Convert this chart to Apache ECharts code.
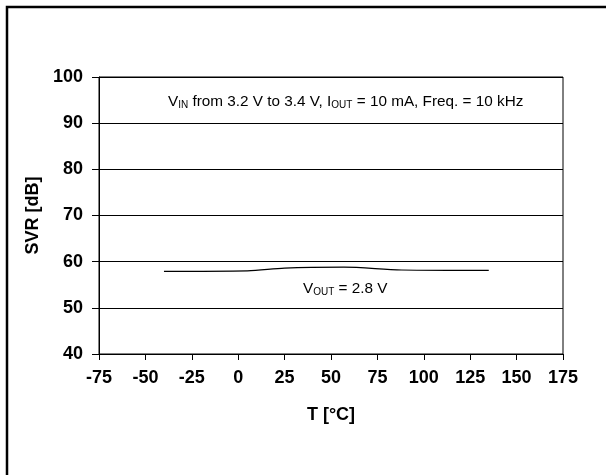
<!DOCTYPE html>
<html>
<head>
<meta charset="utf-8">
<script src="https://cdn.jsdelivr.net/npm/echarts@6/dist/echarts.min.js"></script>
<style>html,body{margin:0;padding:0;background:#fff}#c{width:606px;height:475px}</style>
</head>
<body>
<div id="c"></div>
<script>
var temps = [-40, 5, 25, 57, 88, 135];
var svr28 = [57.9, 58.0, 58.6, 58.8, 58.2, 58.1];
var xTicks = [-75, 175, 25];
var yTicks = [40, 100, 10];

var chart = echarts.init(document.getElementById('c'), null, {renderer: 'canvas'});
var font = 'Liberation Sans, Arial, sans-serif';
chart.setOption({
  animation: false,
  backgroundColor: '#fff',
  grid: {left: 99, right: 43, top: 77, bottom: 121, show: true, borderColor: '#000', borderWidth: 1, backgroundColor: 'transparent'},
  xAxis: {
    type: 'value', min: xTicks[0], max: xTicks[1], interval: xTicks[2],
    name: 'T [°C]', nameLocation: 'middle', nameGap: 52,
    nameTextStyle: {fontFamily: font, fontWeight: 'bold', fontSize: 18, color: '#000'},
    axisLine: {onZero: false, lineStyle: {color: '#000', width: 1}},
    axisTick: {show: true, length: 6, lineStyle: {color: '#000'}},
    axisLabel: {margin: 15, fontFamily: font, fontWeight: 'bold', fontSize: 18, color: '#000'},
    splitLine: {show: false}
  },
  yAxis: {
    type: 'value', min: yTicks[0], max: yTicks[1], interval: yTicks[2],
    name: 'SVR [dB]', nameLocation: 'middle', nameGap: 52, nameRotate: 90,
    nameTextStyle: {fontFamily: font, fontWeight: 'bold', fontSize: 18, color: '#000'},
    axisLine: {show: true, onZero: false, lineStyle: {color: '#000', width: 1}},
    axisTick: {show: true, length: 7, lineStyle: {color: '#000'}},
    axisLabel: {margin: 16, fontFamily: font, fontWeight: 'bold', fontSize: 18, color: '#000'},
    splitLine: {show: true, lineStyle: {color: '#000', width: 1}}
  },
  series: [{
    type: 'line',
    data: temps.map(function (t, i) { return [t, svr28[i]]; }),
    smooth: 0.3,
    showSymbol: false,
    lineStyle: {color: '#000', width: 1.2}
  }],
  graphic: [
    {type: 'rect', shape: {x: 7, y: 7, width: 800, height: 800}, style: {fill: 'none', stroke: '#000', lineWidth: 2.5}, silent: true},
    {type: 'text', left: 168, top: 94, style: {
      rich: {
        n: {fontFamily: font, fontSize: 15.3, fill: '#000'},
        s: {fontFamily: font, fontSize: 10, fill: '#000', padding: [8, 0, 0, 0]}
      },
      text: '{n|V}{s|IN}{n| from 3.2 V to 3.4 V, I}{s|OUT}{n| = 10 mA, Freq. = 10 kHz}'
    }},
    {type: 'text', left: 303, top: 281, style: {
      rich: {
        n: {fontFamily: font, fontSize: 15.3, fill: '#000'},
        s: {fontFamily: font, fontSize: 10, fill: '#000', padding: [8, 0, 0, 0]}
      },
      text: '{n|V}{s|OUT}{n| = 2.8 V}'
    }}
  ]
});
</script>
</body>
</html>
